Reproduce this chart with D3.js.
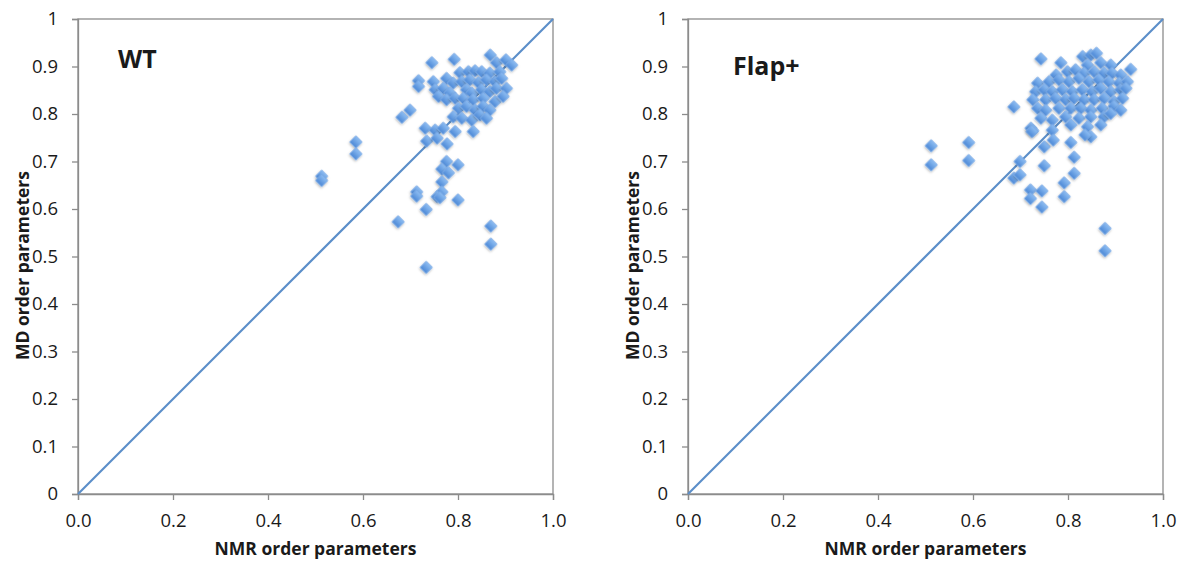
<!DOCTYPE html>
<html>
<head>
<meta charset="utf-8">
<script src="https://cdn.jsdelivr.net/npm/d3@7"></script>
<style>
  body { margin: 0; background: #fff; }
  svg text { font-family: "Open Sans", "Liberation Sans", sans-serif; fill: #1a1a1a; }
</style>
</head>
<body>
<svg id="chart" width="1182" height="561"></svg>
<script>
// NMR vs MD order parameters, [nmr, md] pairs
const wtPoints = [
  [0.745, 0.908], [0.792, 0.915], [0.868, 0.924], [0.881, 0.908], [0.901, 0.914], [0.913, 0.903],
  [0.804, 0.887], [0.822, 0.889], [0.836, 0.891], [0.850, 0.889], [0.867, 0.886], [0.888, 0.889],
  [0.717, 0.870], [0.717, 0.858], [0.748, 0.868], [0.776, 0.875], [0.790, 0.865], [0.808, 0.868],
  [0.825, 0.872], [0.843, 0.866], [0.860, 0.872], [0.878, 0.868], [0.892, 0.875],
  [0.752, 0.851], [0.769, 0.854], [0.783, 0.844], [0.759, 0.837], [0.776, 0.830], [0.794, 0.833],
  [0.818, 0.851], [0.829, 0.844], [0.850, 0.851], [0.867, 0.847], [0.881, 0.854], [0.902, 0.854],
  [0.811, 0.833], [0.832, 0.830], [0.853, 0.833], [0.878, 0.826], [0.895, 0.837],
  [0.801, 0.812], [0.818, 0.816], [0.836, 0.808], [0.853, 0.816], [0.867, 0.808],
  [0.699, 0.808], [0.682, 0.793],
  [0.790, 0.794], [0.808, 0.791], [0.829, 0.787], [0.846, 0.798], [0.860, 0.791],
  [0.731, 0.770], [0.752, 0.766], [0.769, 0.770], [0.794, 0.763], [0.832, 0.763],
  [0.734, 0.743], [0.756, 0.749], [0.777, 0.737],
  [0.585, 0.741], [0.585, 0.716], [0.513, 0.669], [0.513, 0.660],
  [0.776, 0.700], [0.800, 0.693], [0.766, 0.684], [0.780, 0.676], [0.766, 0.657],
  [0.713, 0.636], [0.713, 0.627], [0.766, 0.636], [0.756, 0.626], [0.762, 0.624],
  [0.800, 0.619], [0.733, 0.599], [0.674, 0.573], [0.869, 0.564], [0.869, 0.526], [0.733, 0.477]
];

const flapPoints = [
  [0.743, 0.916], [0.785, 0.908], [0.831, 0.921], [0.848, 0.924], [0.860, 0.928], [0.841, 0.903],
  [0.869, 0.908], [0.890, 0.903], [0.932, 0.894],
  [0.799, 0.889], [0.816, 0.893], [0.834, 0.886], [0.855, 0.889], [0.876, 0.886], [0.893, 0.886], [0.911, 0.882],
  [0.775, 0.882], [0.736, 0.865],
  [0.760, 0.868], [0.781, 0.872], [0.802, 0.868], [0.823, 0.875], [0.844, 0.868], [0.865, 0.872],
  [0.886, 0.868], [0.908, 0.865], [0.925, 0.868],
  [0.732, 0.847], [0.750, 0.851], [0.767, 0.847], [0.788, 0.851], [0.809, 0.847], [0.830, 0.851],
  [0.851, 0.847], [0.869, 0.854], [0.890, 0.847], [0.911, 0.851], [0.922, 0.854],
  [0.726, 0.830], [0.753, 0.830], [0.774, 0.833], [0.795, 0.830], [0.813, 0.833], [0.834, 0.830],
  [0.855, 0.830], [0.876, 0.833], [0.897, 0.826], [0.915, 0.833],
  [0.686, 0.815],
  [0.736, 0.812], [0.753, 0.808], [0.781, 0.812], [0.806, 0.812], [0.827, 0.812], [0.848, 0.808],
  [0.872, 0.812], [0.897, 0.816], [0.911, 0.808],
  [0.743, 0.791], [0.767, 0.787], [0.795, 0.794], [0.823, 0.791], [0.848, 0.794], [0.876, 0.794], [0.890, 0.801],
  [0.722, 0.770], [0.726, 0.765], [0.767, 0.766], [0.806, 0.777], [0.841, 0.773], [0.869, 0.777],
  [0.512, 0.733], [0.512, 0.693], [0.591, 0.740], [0.591, 0.702],
  [0.699, 0.700], [0.686, 0.665], [0.699, 0.672], [0.750, 0.691],
  [0.721, 0.640], [0.745, 0.638], [0.721, 0.622], [0.745, 0.604],
  [0.792, 0.655], [0.813, 0.675], [0.813, 0.709], [0.792, 0.626],
  [0.806, 0.740], [0.750, 0.731], [0.769, 0.745], [0.724, 0.763], [0.848, 0.752], [0.836, 0.756],
  [0.878, 0.559], [0.878, 0.512]
];

const yTicks = [0, 0.1, 0.2, 0.3, 0.4, 0.5, 0.6, 0.7, 0.8, 0.9, 1];
const xTicks = [0, 0.2, 0.4, 0.6, 0.8, 1.0];
const panelTitles = ["WT", "Flap+"];
const xTitle = "NMR order parameters";
const yTitle = "MD order parameters";

const svg = d3.select("#chart");

const defs = svg.append("defs");
const grad = defs.append("linearGradient")
  .attr("id", "dia").attr("x1", 0).attr("y1", 0).attr("x2", 0).attr("y2", 1);
grad.append("stop").attr("offset", "0%").attr("stop-color", "#8dbdf2");
grad.append("stop").attr("offset", "100%").attr("stop-color", "#4c88d6");
const shadow = defs.append("filter").attr("id", "shadow")
  .attr("x", "-50%").attr("y", "-50%").attr("width", "200%").attr("height", "200%");
shadow.append("feDropShadow")
  .attr("dx", 0.5).attr("dy", 1.2).attr("stdDeviation", 0.9)
  .attr("flood-color", "#000").attr("flood-opacity", 0.28);

const panels = [
  { left: 78, title: panelTitles[0], titleX: 40, titleY: 49, data: wtPoints },
  { left: 688, title: panelTitles[1], titleX: 45, titleY: 56, data: flapPoints }
];
const plotTop = 19, plotSize = 475;

panels.forEach(p => {
  const g = svg.append("g").attr("transform", `translate(${p.left}, ${plotTop})`);

  const x = d3.scaleLinear().domain([0, 1]).range([0, plotSize]);
  const y = d3.scaleLinear().domain([0, 1]).range([plotSize, 0]);

  // frame
  g.append("rect")
    .attr("width", plotSize).attr("height", plotSize)
    .attr("fill", "none").attr("stroke", "#8c8c8c").attr("stroke-width", 1.3);

  const yAxis = g.append("g")
    .call(d3.axisLeft(y).tickValues(yTicks).tickSize(6).tickPadding(14)
      .tickFormat(d => d === 0 || d === 1 ? d3.format("d")(d) : d3.format(".1f")(d)));
  const xAxis = g.append("g")
    .attr("transform", `translate(0, ${plotSize})`)
    .call(d3.axisBottom(x).tickValues(xTicks).tickSize(6).tickPadding(14)
      .tickFormat(d3.format(".1f")));

  [yAxis, xAxis].forEach(a => {
    a.select(".domain").attr("stroke", "#8c8c8c").attr("stroke-width", 1.3);
    a.selectAll(".tick line").attr("stroke", "#8c8c8c").attr("stroke-width", 1.3);
    a.selectAll(".tick text").attr("font-size", 18.5)
      .attr("font-family", "Open Sans, sans-serif").attr("fill", "#1a1a1a");
  });

  // y = x line
  g.append("line")
    .attr("x1", x(0)).attr("y1", y(0)).attr("x2", x(1)).attr("y2", y(1))
    .attr("stroke", "#5b8ec9").attr("stroke-width", 2.2);

  g.selectAll(".pt")
    .data(p.data)
    .enter()
    .append("path")
    .attr("class", "pt")
    .attr("d", d3.symbol(d3.symbolSquare, 74)())
    .attr("transform", d => `translate(${x(d[0])}, ${y(d[1])}) rotate(45)`)
    .attr("fill", "url(#dia)")
    .attr("stroke", "#7aaae6")
    .attr("stroke-width", 0.8)
    .attr("filter", "url(#shadow)");

  g.append("text")
    .attr("x", p.titleX).attr("y", p.titleY)
    .attr("font-family", "Liberation Sans, Arial, sans-serif")
    .attr("font-weight", "bold").attr("font-size", 25)
    .text(p.title);

  g.append("text")
    .attr("x", plotSize / 2).attr("y", plotSize + 61)
    .attr("text-anchor", "middle")
    .attr("font-weight", "bold").attr("font-size", 17.5)
    .text(xTitle);

  g.append("text")
    .attr("transform", `translate(-49, ${plotSize / 2 + 9}) rotate(-90)`)
    .attr("text-anchor", "middle")
    .attr("font-weight", "bold").attr("font-size", 17.5)
    .text(yTitle);
});
</script>
</body>
</html>
